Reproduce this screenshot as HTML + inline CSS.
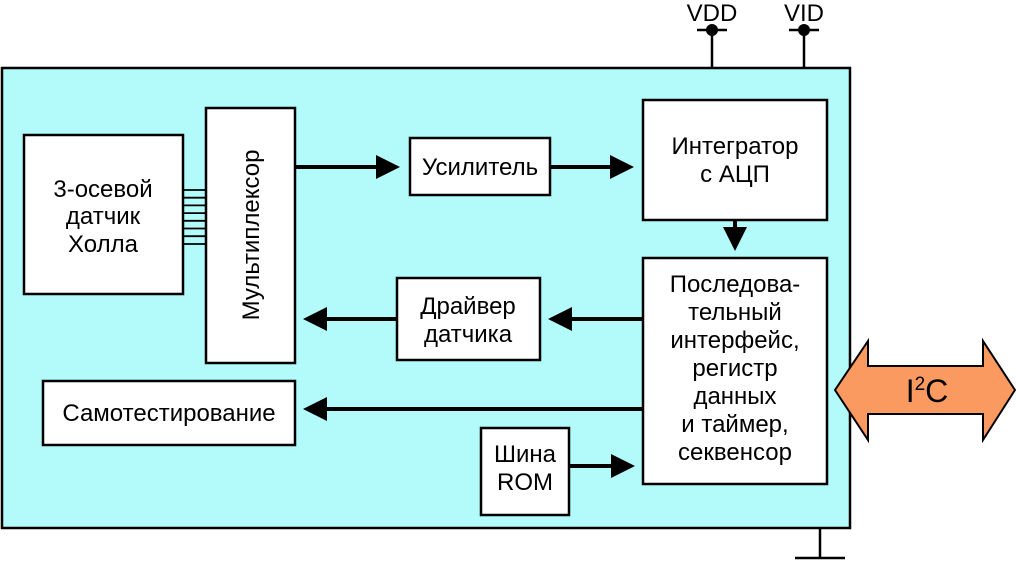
<!DOCTYPE html>
<html><head><meta charset="utf-8"><style>
body{margin:0;background:#fff;}
svg{display:block;font-family:"Liberation Sans",sans-serif;}
</style></head><body>
<svg width="1016" height="561" viewBox="0 0 1016 561">
<defs><marker id="a" markerWidth="6" markerHeight="6" refX="5" refY="3" orient="auto" markerUnits="strokeWidth"><path d="M0,0 L6,3 L0,6 z" fill="#000"/></marker></defs>
<rect x="2" y="68" width="848" height="460" fill="#b3fafa" stroke="#000" stroke-width="2.5"/>
<g stroke="#000" stroke-width="2.5">
<line x1="712" y1="30" x2="712" y2="68"/><line x1="697" y1="30" x2="727" y2="30"/>
<line x1="804" y1="30" x2="804" y2="68"/><line x1="789" y1="30" x2="819" y2="30"/>
<line x1="820" y1="528" x2="820" y2="557"/><line x1="795" y1="558" x2="845" y2="558"/>
</g>
<circle cx="712" cy="30" r="6"/><circle cx="804" cy="30" r="6"/>
<text x="712" y="21" font-size="24" text-anchor="middle">VDD</text>
<text x="804" y="21" font-size="24" text-anchor="middle">VID</text>
<g fill="#fff" stroke="#000" stroke-width="2.5">
<rect x="24" y="135" width="159" height="159"/>
<rect x="206" y="108" width="89" height="255"/>
<rect x="410" y="138" width="140" height="57"/>
<rect x="643" y="100" width="184" height="120"/>
<rect x="643" y="258" width="184" height="226"/>
<rect x="397" y="278" width="143" height="82"/>
<rect x="43" y="381" width="252" height="64"/>
<rect x="481" y="428" width="88" height="87"/>
</g>
<g stroke="#000" stroke-width="1.8">
<line x1="183" y1="190" x2="206" y2="190"/><line x1="183" y1="197.7" x2="206" y2="197.7"/>
<line x1="183" y1="205.4" x2="206" y2="205.4"/><line x1="183" y1="213.1" x2="206" y2="213.1"/>
<line x1="183" y1="220.8" x2="206" y2="220.8"/><line x1="183" y1="228.5" x2="206" y2="228.5"/>
<line x1="183" y1="236.2" x2="206" y2="236.2"/><line x1="183" y1="244" x2="206" y2="244"/>
</g>
<g stroke="#000" stroke-width="4">
<line x1="295" y1="167" x2="396" y2="167" marker-end="url(#a)"/>
<line x1="550" y1="167" x2="630" y2="167" marker-end="url(#a)"/>
<line x1="735" y1="220" x2="735" y2="247" marker-end="url(#a)"/>
<line x1="643" y1="319" x2="552" y2="319" marker-end="url(#a)"/>
<line x1="397" y1="319" x2="307" y2="319" marker-end="url(#a)"/>
<line x1="643" y1="409" x2="307" y2="409" marker-end="url(#a)"/>
<line x1="569" y1="466" x2="631" y2="466" marker-end="url(#a)"/>
</g>
<polygon points="835,390 868,341 868,366 983,366 983,341 1015,390 983,440 983,414 868,414 868,440" fill="#fa9960" stroke="#000" stroke-width="2"/>
<text x="927" y="402" font-size="32" text-anchor="middle">I<tspan font-size="19" dy="-12">2</tspan><tspan dy="12">C</tspan></text>
<g font-size="24" text-anchor="middle">
<text x="103" y="197">3-осевой</text><text x="103" y="224">датчик</text><text x="103" y="252">Холла</text>
<text transform="translate(259,235) rotate(-90)">Мультиплексор</text>
<text x="480" y="175">Усилитель</text>
<text x="735" y="154">Интегратор</text><text x="735" y="182">с АЦП</text>
<text x="468" y="314">Драйвер</text><text x="468" y="342">датчика</text>
<text x="169" y="421">Самотестирование</text>
<text x="525" y="462">Шина</text><text x="525" y="490">ROM</text>
<text x="735" y="292">Последова-</text><text x="735" y="320">тельный</text><text x="735" y="348">интерфейс,</text>
<text x="735" y="376">регистр</text><text x="735" y="404">данных</text><text x="735" y="432">и таймер,</text><text x="735" y="460">секвенсор</text>
</g>
</svg>
</body></html>
